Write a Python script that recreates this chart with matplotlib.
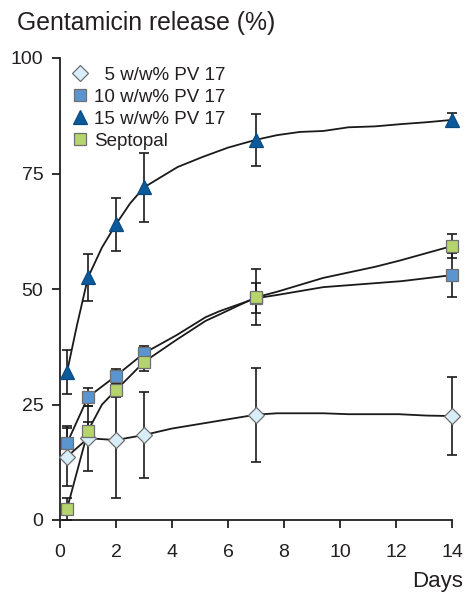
import matplotlib
matplotlib.use("Agg")
import matplotlib.pyplot as plt
import numpy as np

plt.rcParams['font.family'] = ['Liberation Sans', 'DejaVu Sans']
plt.rcParams['text.color'] = '#231f20'

# sampling days (markers)
days = [0.25, 1, 2, 3, 7, 14]

# 5 w/w% PV 17
pv5 = [13.7, 17.7, 17.3, 18.4, 22.8, 22.5]
pv5_err = [6.3, 7.0, 12.5, 9.3, 10.2, 8.5]
pv5_line_x = [0.25, 1, 2, 3, 4, 5, 6, 7, 7.75, 9.4, 10.3, 12.1, 13.1, 14]
pv5_line_y = [13.7, 17.7, 17.3, 18.4, 19.8, 20.8, 21.8, 22.8, 23.1, 23.1, 22.9, 22.9, 22.6, 22.5]

# 10 w/w% PV 17
pv10 = [16.6, 26.6, 31.2, 36.1, 48.0, 53.0]
pv10_err = [3.7, 2.0, 1.5, 1.5, 3.2, 4.7]
pv10_line_x = [0.25, 1, 2, 3, 4.16, 5.2, 5.7, 7, 7.75, 9.4, 12.2, 14]
pv10_line_y = [16.6, 26.6, 31.2, 36.1, 40.0, 43.9, 45.2, 48.0, 48.7, 50.4, 51.7, 53.0]

# 15 w/w% PV 17
pv15 = [32.0, 52.5, 64.0, 72.0, 82.3, 86.6]
pv15_err = [4.7, 5.0, 5.8, 7.5, 5.6, 1.5]
pv15_line_x = [0.25, 0.6, 1, 1.5, 2, 2.5, 3, 4.2, 5.1, 6, 7, 7.75, 8.57, 9.4, 10.3, 11.25, 12.2, 13.1, 14]
pv15_line_y = [32.0, 42.0, 52.5, 59.0, 64.0, 68.5, 72.0, 76.4, 78.6, 80.6, 82.3, 83.3, 84.0, 84.2, 85.0, 85.2, 85.7, 86.1, 86.6]

# Septopal
sept = [2.4, 19.3, 28.1, 34.2, 48.2, 59.3]
sept_err = [2.4, 2.0, 1.5, 2.0, 6.1, 2.5]
sept_line_x = [0.25, 1, 1.5, 2, 3, 4.16, 5.2, 5.7, 7, 7.75, 9.4, 11.25, 12.1, 14]
sept_line_y = [2.4, 19.3, 25.0, 28.1, 34.2, 39.0, 43.1, 44.5, 48.2, 49.4, 52.4, 54.8, 56.1, 59.3]

fig = plt.figure(figsize=(4.68, 5.92), dpi=100)
ax = fig.add_axes([60/468, 72/592, 392/468, 462/592])

series = [
    (pv5, pv5_err, pv5_line_x, pv5_line_y, 'D', '#d8eefa', '#6f6f6f', 8.5, '  5 w/w% PV 17'),
    (pv10, pv10_err, pv10_line_x, pv10_line_y, 's', '#5b95d0', '#6f6f6f', 8, '10 w/w% PV 17'),
    (pv15, pv15_err, pv15_line_x, pv15_line_y, '^', '#0b5a99', '#0b4a80', 10, '15 w/w% PV 17'),
    (sept, sept_err, sept_line_x, sept_line_y, 's', '#b5d56c', '#6f6f6f', 8, 'Septopal'),
]

handles = []
for vals, err, lx, ly, mk, fc, ec, ms, lab in series:
    ax.plot(lx, ly, '-', color='#1a1a1a', lw=1.3, zorder=2, clip_on=False)
    ax.errorbar(days, vals, yerr=err, fmt='none', ecolor='#1a1a1a', elinewidth=1.2,
                capsize=3.5, capthick=1.2, zorder=3, clip_on=False)
    h, = ax.plot(days, vals, linestyle='none', marker=mk, markersize=ms,
                 markerfacecolor=fc, markeredgecolor=ec, markeredgewidth=0.9,
                 zorder=4, clip_on=False)
    handles.append((h, lab))

leg = ax.legend([h for h, l in handles], [l for h, l in handles], loc='upper left',
                bbox_to_anchor=(-0.011, 1.01), frameon=False, fontsize=13.5,
                handletextpad=0.15, handlelength=1.2, labelspacing=0.26,
                borderaxespad=0.3)
for t in leg.get_texts():
    t.set_color('#231f20')

ax.set_xlim(0, 14)
ax.set_ylim(0, 100)
ax.set_xticks([0, 2, 4, 6, 8, 10, 12, 14])
ax.set_yticks([0, 25, 50, 75, 100])
ax.spines['top'].set_visible(False)
ax.spines['right'].set_visible(False)
for s in ('left', 'bottom'):
    ax.spines[s].set_linewidth(1.3)
    ax.spines[s].set_color('#231f20')
ax.tick_params(axis='y', length=6, width=1.3, pad=6, labelsize=14, colors='#231f20')
ax.tick_params(axis='x', length=6, width=1.3, pad=11, labelsize=14, colors='#231f20')

fig.text(17/468, 1 - 23/592, 'Gentamicin release (%)', fontsize=17.8, ha='left', va='center')
fig.text(463/468, 1 - 581/592, 'Days', fontsize=16, ha='right', va='center')

fig.savefig('out.png', dpi=100)
